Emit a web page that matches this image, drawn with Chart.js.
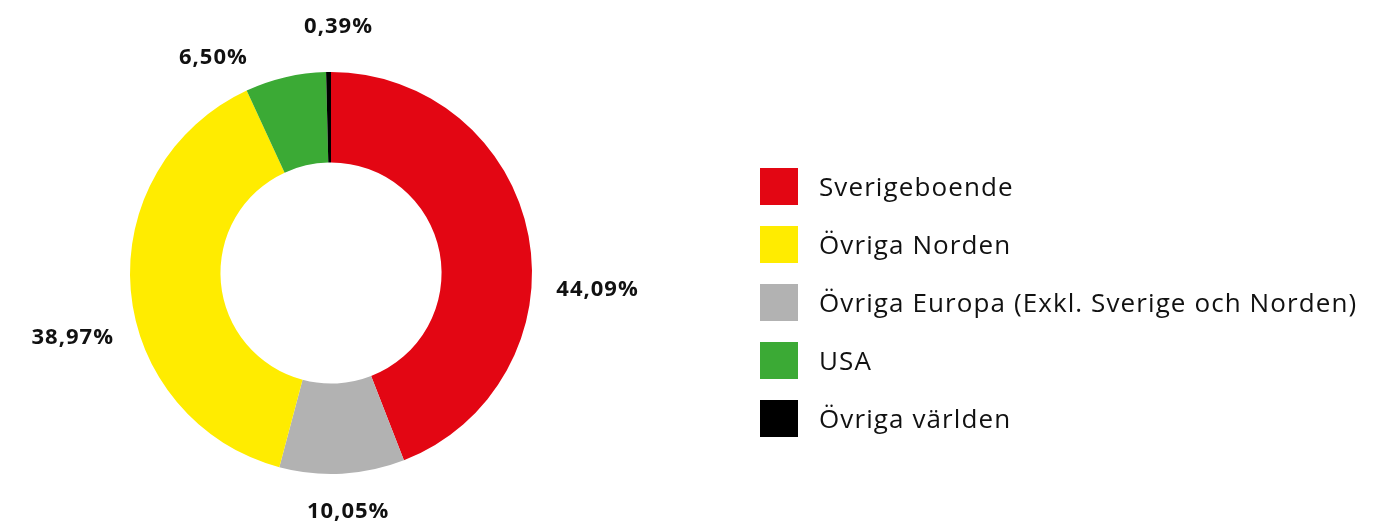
<!DOCTYPE html>
<html>
<head>
<meta charset="utf-8">
<script src="https://cdn.jsdelivr.net/npm/chart.js@4/dist/chart.umd.min.js"></script>
<style>
  html,body{margin:0;padding:0;background:#fff;}
  #wrap{position:relative;width:1395px;height:523px;}
  #legend{position:absolute;left:760px;top:167px;font-family:'Open Sans',sans-serif;font-size:26px;letter-spacing:1.1px;color:#111;}
  .row{display:flex;align-items:center;height:38px;margin-bottom:20px;}
  .box{width:38px;height:37px;margin-right:21px;flex:none;}
</style>
</head>
<body>
<div id="wrap">
  <canvas id="chart" width="1395" height="523"></canvas>
  <div id="legend"></div>
</div>
<script>
// slices, clockwise from 12 o'clock
const categories = ['Sverigeboende','Övriga Europa (Exkl. Sverige och Norden)','Övriga Norden','USA','Övriga världen'];
const shares = [44.09, 10.05, 38.97, 6.50, 0.39];
const sliceLabels = ['44,09%','10,05%','38,97%','6,50%','0,39%'];
const colors = ['#E30613','#B2B2B2','#FFEC00','#3BAA35','#000000'];
const legendOrder = [0,2,1,3,4];
// label nudges from the outer edge of each slice's middle
const labelDx = [69, 6, -58, -72, 10];
const labelDy = [54, 38, 47, -19, -45];

const sliceText = {
  id:'sliceText',
  afterDatasetsDraw(chart){
    const {ctx} = chart;
    const meta = chart.getDatasetMeta(0);
    ctx.save();
    ctx.font = "bold 22px 'Open Sans', sans-serif";
    ctx.letterSpacing = '1px';
    ctx.fillStyle = '#111';
    ctx.textAlign = 'center';
    ctx.textBaseline = 'middle';
    meta.data.forEach((arc,i)=>{
      const p = arc.getProps(['x','y','startAngle','endAngle','outerRadius'],true);
      const mid = (p.startAngle+p.endAngle)/2;
      const x = p.x + Math.cos(mid)*p.outerRadius + labelDx[i];
      const y = p.y + Math.sin(mid)*p.outerRadius + labelDy[i];
      ctx.fillText(sliceLabels[i], x, y);
    });
    ctx.restore();
  }
};

new Chart(document.getElementById('chart').getContext('2d'),{
  type:'doughnut',
  data:{
    labels:categories,
    datasets:[{data:shares,backgroundColor:colors,borderWidth:0,hoverOffset:0}]
  },
  options:{
    responsive:false,
    animation:false,
    cutout:'55%',
    layout:{padding:{left:130,right:863,top:72,bottom:49}},
    plugins:{legend:{display:false},tooltip:{enabled:false}}
  },
  plugins:[sliceText]
});

const legend = document.getElementById('legend');
legendOrder.forEach(i=>{
  const row = document.createElement('div');
  row.className = 'row';
  row.innerHTML = '<div class="box" style="background:'+colors[i]+'"></div><span>'+categories[i]+'</span>';
  legend.appendChild(row);
});
</script>
</body>
</html>
